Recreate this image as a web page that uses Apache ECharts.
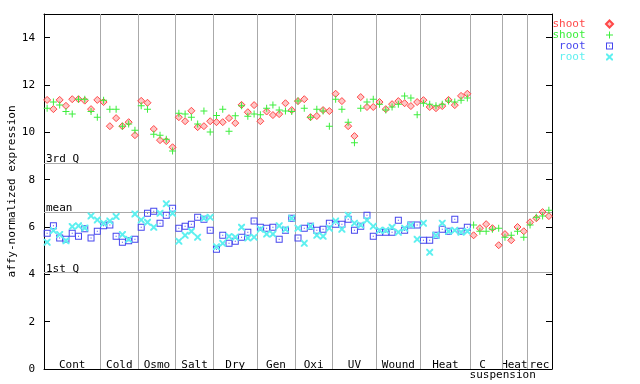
<!DOCTYPE html>
<html><head><meta charset="utf-8">
<script src="https://cdn.jsdelivr.net/npm/echarts@6/dist/echarts.min.js"></script>
<style>html,body{margin:0;padding:0;background:#fff}#c{width:640px;height:384px}</style>
</head><body><div id="c"></div><script>
// ---- data ----
const groupNames = ['Cont','Cold','Osmo','Salt','Dry','Gen','Oxi','UV','Wound','Heat','C suspension','Heat','rec'];
const groupSizes = [9,6,6,6,7,6,6,7,7,8,5,4,4];
const shootRed = [
  11.37,10.98,11.37,11.12,11.40,11.40,11.34,10.98,11.37,
  11.28,10.26,10.60,10.26,10.43,9.88,
  11.33,11.25,10.14,9.67,9.63,9.37,
  10.64,10.47,10.91,10.22,10.26,10.47,
  10.43,10.43,10.60,10.39,11.16,10.85,11.15,
  10.47,10.88,10.73,10.77,11.23,10.94,
  11.32,11.40,10.64,10.69,10.94,10.90,
  11.63,11.32,10.26,9.84,11.49,11.07,11.07,
  11.28,10.98,11.19,11.32,11.23,11.11,11.28,
  11.36,11.07,11.02,11.11,11.37,11.15,11.54,11.63,
  5.65,5.95,6.12,5.95,5.23,
  5.70,5.44,6.00,5.82,
  6.20,6.37,6.63,6.46
];
const shootGreen = [
  11.02,11.28,11.15,10.88,10.77,11.40,11.40,10.88,10.64,
  11.36,10.98,10.98,10.26,10.35,10.09,
  11.12,10.98,9.92,9.88,9.71,9.21,
  10.81,10.77,10.64,10.35,10.90,10.01,
  10.71,10.98,10.05,10.70,11.12,10.68,10.77,
  10.74,11.02,11.15,10.94,10.90,10.88,
  11.32,11.02,10.64,10.98,10.90,10.26,
  11.40,10.98,10.43,9.56,11.02,11.28,11.40,
  11.19,10.94,11.07,11.19,11.54,11.45,10.74,
  11.23,11.19,11.12,11.19,11.32,11.28,11.36,11.45,
  6.08,5.82,5.82,5.91,5.95,
  5.57,5.65,5.82,5.57,
  6.08,6.41,6.46,6.71
];
const rootBlue = [
  5.74,6.05,5.53,5.48,5.74,5.61,5.93,5.53,5.82,
  6.05,6.08,5.61,5.36,5.42,5.48,
  5.99,6.58,6.67,6.16,6.50,6.79,
  5.95,6.03,6.12,6.41,6.33,5.86,
  5.06,5.65,5.31,5.40,5.57,5.78,6.25,
  5.99,5.95,5.99,5.48,5.86,6.37,
  5.53,5.95,6.03,5.86,5.91,6.16,
  6.12,6.12,6.33,5.86,6.03,6.50,5.61,
  5.78,5.78,5.78,6.29,5.86,6.08,6.08,
  5.44,5.44,5.65,5.91,5.82,6.33,5.82,5.99
];
const rootCyan = [
  5.36,5.85,5.68,5.42,6.02,6.05,5.96,6.47,6.30,
  6.16,6.25,6.44,5.68,5.48,6.55,
  6.30,6.20,5.99,6.58,6.98,6.58,
  5.40,5.65,5.82,5.57,6.37,6.41,
  5.17,5.31,5.60,5.57,5.99,5.53,5.57,
  5.91,5.70,5.70,6.05,5.91,6.37,
  5.95,5.31,6.03,5.65,5.61,5.95,
  6.25,5.91,6.50,6.16,6.08,6.29,6.03,
  5.86,5.86,5.99,5.78,5.95,6.08,5.48,
  6.16,4.93,5.65,6.16,5.82,5.86,5.78,5.82
];
const refValues = [8.71, 6.63, 4.09];
const refLabels = ['3rd Q', 'mean', '1st Q'];
const yTicks = [0,2,4,6,8,10,12,14];
const seriesNames = ['shoot','shoot','root','root'];

// ---- build ----
const FONT = '"DejaVu Sans Mono","Liberation Mono",monospace';
const RED = '#ff4848', GREEN = '#3cee3c', BLUE = '#4646ee', CYAN = '#5ef0f0';
const total = groupSizes.reduce((a,b)=>a+b,0);
const bounds = [], centers = [];
let acc = 0;
groupSizes.forEach((s,i)=>{ centers.push(acc + s/2); acc += s; if (i < groupSizes.length-1) bounds.push(acc); });
const toPts = arr => arr.map((v,i)=>[i+0.5, v]);

const SYM_DIA = 'path://M3.5,0L7,3.5L3.5,7L0,3.5Z';
const SYM_PLUS = 'path://M3,0H4V3H7V4H4V7H3V4H0V3H3Z';
const SYM_SQ = 'path://M0,0H7V7H0Z M1,1V6H6V1Z M3,3H4V4H3Z';
const SYM_X = 'path://M0,0H1.4L3.5,2.1L5.6,0H7V1.4L4.9,3.5L7,5.6V7H5.6L3.5,4.9L1.4,7H0V5.6L2.1,3.5L0,1.4Z';

const markData = bounds.map(b => ({xAxis: b, label:{show:false}}))
  .concat(refValues.map((v,i)=>({yAxis: v, label:{
    show:true, formatter: refLabels[i], position:'insideStartTop', distance:[2,-2],
    color:'#000', fontFamily: FONT, fontSize: 11, padding:0
  }})));

const chart = echarts.init(document.getElementById('c'), null, {renderer:'canvas'});
chart.setOption({
  animation: false,
  backgroundColor: '#fff',
  textStyle: {fontFamily: FONT},
  grid: {left: 44, right: 88, top: 14, bottom: 15, containLabel: false, outerBoundsMode: 'none'},
  legend: {
    orient: 'vertical', right: 26, top: 18.5, align: 'right', padding: 0,
    itemWidth: 38, itemHeight: 7, itemGap: 0,
    textStyle: {fontFamily: FONT, fontSize: 11, lineHeight: 11},
    formatter: n => n.split('_')[0],
    data: [
      {name:'shoot_1', textStyle:{color:RED}},
      {name:'shoot_2', textStyle:{color:GREEN}},
      {name:'root_1', textStyle:{color:BLUE}},
      {name:'root_2', textStyle:{color:CYAN}}
    ],
    selectedMode: false
  },
  xAxis: [{
    type:'value', position:'bottom', min:0, max: total,
    splitLine:{show:false},
    axisLine:{show:true, onZero:false, lineStyle:{color:'#000', width:1}},
    axisTick:{show:false},
    axisLabel:{
      customValues: centers, margin: -9, verticalAlign:'top',
      color:'#000', fontFamily: FONT, fontSize: 11, lineHeight: 10,
      formatter: v => {
        const k = centers.findIndex(c => Math.abs(c - v) < 1e-6);
        const name = groupNames[k];
        if (name === 'C suspension') return '{c|C}\n{s|suspension}';
        return name;
      },
      rich: {
        c: {fontFamily: FONT, fontSize: 11, lineHeight: 10, color:'#000', padding:[0,7,0,0]},
        s: {fontFamily: FONT, fontSize: 11, lineHeight: 10, color:'#000', padding:[0,0,0,33]}
      }
    }
  },{
    type:'value', position:'top', min:0, max: total,
    splitLine:{show:false},
    axisLine:{show:true, onZero:false, lineStyle:{color:'#000', width:1}},
    axisTick:{show:false}, axisLabel:{show:false}
  }],
  yAxis: [{
    type:'value', position:'left', min:0, max:15,
    name:'affy-normalized expression', nameLocation:'middle', nameGap:26, nameRotate:90,
    nameMoveOverlap: false,
    nameTextStyle:{color:'#000', fontFamily: FONT, fontSize: 11},
    splitLine:{show:false},
    axisLine:{show:true, onZero:false, lineStyle:{color:'#000', width:1}},
    axisTick:{show:true, inside:true, length:6, customValues: yTicks, lineStyle:{color:'#000'}},
    axisLabel:{customValues: yTicks, color:'#000', fontFamily: FONT, fontSize: 11, margin: 9}
  },{
    type:'value', position:'right', min:0, max:15,
    splitLine:{show:false},
    axisLine:{show:true, onZero:false, lineStyle:{color:'#000', width:1}},
    axisTick:{show:true, inside:true, length:6, customValues: yTicks, lineStyle:{color:'#000'}},
    axisLabel:{show:false}
  }],
  series: [
    {
      type:'scatter', name:'_lines', data:[], z:1, silent:true,
      markLine:{
        silent:true, symbol:['none','none'], animation:false, z:1,
        lineStyle:{color:'#aaaaaa', width:1, type:'solid'},
        data: markData
      }
    },
    {type:'scatter', name:'shoot_1', data: toPts(shootRed), symbol:SYM_DIA, symbolSize:7, z:3,
      itemStyle:{color:'rgba(255,90,90,0.35)', borderColor:RED, borderWidth:1, opacity:1}},
    {type:'scatter', name:'shoot_2', data: toPts(shootGreen), symbol:SYM_PLUS, symbolSize:7, z:3,
      itemStyle:{color:GREEN, opacity:1}},
    {type:'scatter', name:'root_1', data: toPts(rootBlue), symbol:SYM_SQ, symbolSize:7, z:3,
      itemStyle:{color:BLUE, opacity:1}},
    {type:'scatter', name:'root_2', data: toPts(rootCyan), symbol:SYM_X, symbolSize:7, z:3,
      itemStyle:{color:CYAN, opacity:1}}
  ]
});
</script></body></html>
